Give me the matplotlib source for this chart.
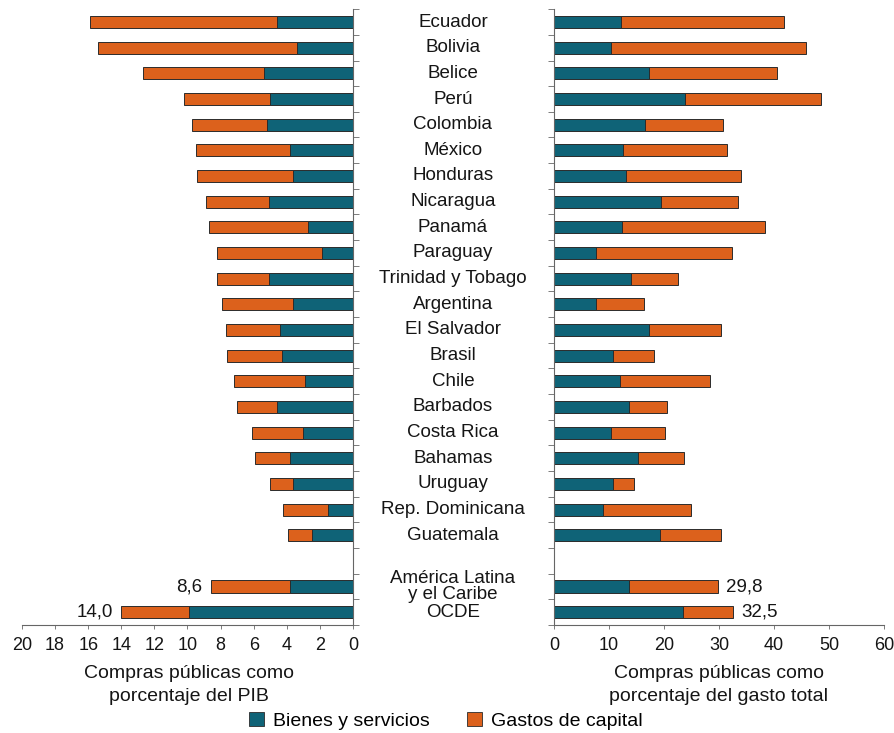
import matplotlib
matplotlib.use("Agg")
import matplotlib.pyplot as plt
import matplotlib.transforms as mtransforms
from matplotlib.patches import Patch
import numpy as np

plt.rcParams['font.family'] = ['Liberation Sans', 'DejaVu Sans']

countries = ["Ecuador", "Bolivia", "Belice", "Perú", "Colombia", "México", "Honduras",
             "Nicaragua", "Panamá", "Paraguay", "Trinidad y Tobago", "Argentina",
             "El Salvador", "Brasil", "Chile", "Barbados", "Costa Rica", "Bahamas",
             "Uruguay", "Rep. Dominicana", "Guatemala",
             "América Latina\ny el Caribe", "OCDE"]

# % del PIB
pib_bienes = [4.6, 3.4, 5.4, 5.0, 5.2, 3.8, 3.6, 5.1, 2.7, 1.9, 5.1, 3.6,
              4.4, 4.3, 2.9, 4.6, 3.0, 3.8, 3.6, 1.5, 2.5, 3.8, 9.9]
pib_capital = [11.3, 12.0, 7.3, 5.2, 4.5, 5.7, 5.8, 3.8, 6.0, 6.3, 3.1, 4.3,
               3.3, 3.3, 4.3, 2.4, 3.1, 2.1, 1.4, 2.7, 1.4, 4.8, 4.1]

# % del gasto total
gasto_bienes = [12.2, 10.3, 17.3, 23.9, 16.6, 12.6, 13.1, 19.4, 12.3, 7.6, 14.0, 7.6,
                17.3, 10.7, 12.0, 13.7, 10.4, 15.3, 10.7, 9.0, 19.3, 13.7, 23.4]
gasto_capital = [29.6, 35.5, 23.2, 24.6, 14.1, 18.8, 20.9, 14.0, 26.1, 24.8, 8.5, 8.8,
                 13.1, 7.4, 16.4, 6.8, 9.8, 8.3, 3.8, 15.9, 11.1, 16.1, 9.1]

value_labels_pib = {"América Latina\ny el Caribe": "8,6", "OCDE": "14,0"}
value_labels_gasto = {"América Latina\ny el Caribe": "29,8", "OCDE": "32,5"}

left_ticks = [0, 2, 4, 6, 8, 10, 12, 14, 16, 18, 20]
right_ticks = [0, 10, 20, 30, 40, 50, 60]

blue = "#0f6377"
orange = "#dc611c"
edge = "#2b2b2b"
spine_c = "#666666"
txt_c = "#151515"

n_c = len(countries)
ypos = np.array(list(range(n_c - 2)) + [n_c - 1, n_c])

W, H = 895, 733
fig = plt.figure(figsize=(W / 100, H / 100), dpi=100)
top_px, bot_px = 9.2, 625
axL = fig.add_axes([22 / W, 1 - bot_px / H, (353 - 22) / W, (bot_px - top_px) / H])
axR = fig.add_axes([554 / W, 1 - bot_px / H, (884 - 554) / W, (bot_px - top_px) / H])

bh = 0.47
for ax, b, c, lim, ticks, labs, side in [
        (axL, pib_bienes, pib_capital, (20, 0), left_ticks, value_labels_pib, 'right'),
        (axR, gasto_bienes, gasto_capital, (0, 60), right_ticks, value_labels_gasto, 'left')]:
    ax.barh(ypos, b, height=bh, color=blue, edgecolor=edge, linewidth=0.7)
    ax.barh(ypos, c, left=b, height=bh, color=orange, edgecolor=edge, linewidth=0.7)
    ax.set_xlim(*lim)
    ax.set_ylim(n_c + 0.5, -0.5)
    ax.set_xticks(ticks)
    ax.set_xticklabels([str(t) for t in ticks])
    ax.set_yticks([])
    ax.set_yticks(np.arange(-0.5, n_c + 1, 1), minor=True)
    ax.tick_params(axis='y', which='minor', length=4, width=0.6, color=spine_c,
                   direction='out', left=(side == 'left'), right=(side == 'right'))
    ax.tick_params(axis='x', length=3, width=0.6, color=spine_c, direction='out',
                   labelsize=13, pad=6, labelcolor=txt_c)
    for s in ax.spines.values():
        s.set_visible(False)
    ax.spines['bottom'].set_visible(True)
    ax.spines[side].set_visible(True)
    for s in ('bottom', side):
        ax.spines[s].set_color(spine_c)
        ax.spines[s].set_linewidth(0.8)
    for name, y, bb, cc in zip(countries, ypos, b, c):
        if name in labs:
            dx = -6 if side == 'right' else 6
            ax.annotate(labs[name], xy=(bb + cc, y), xytext=(dx, 0), textcoords='offset points',
                        ha='right' if side == 'right' else 'left', va='center',
                        fontsize=13.5, color=txt_c)

trans = mtransforms.blended_transform_factory(fig.transFigure, axR.transData)
for name, y in zip(countries, ypos):
    fig.text(453 / W, y, name, transform=trans, ha='center', va='center',
             fontsize=13.5, color=txt_c, linespacing=0.95)

fig.text(189 / W, 1 - 685 / H, "Compras públicas como\nporcentaje del PIB", ha='center',
         va='center', fontsize=14, color=txt_c, linespacing=1.45)
fig.text(719 / W, 1 - 685 / H, "Compras públicas como\nporcentaje del gasto total", ha='center',
         va='center', fontsize=14, color=txt_c, linespacing=1.45)

handles = [Patch(facecolor=blue, edgecolor=edge, linewidth=0.6, label="Bienes y servicios"),
           Patch(facecolor=orange, edgecolor=edge, linewidth=0.6, label="Gastos de capital")]
fig.legend(handles=handles, loc='center', bbox_to_anchor=(446 / W, 1 - 721 / H), ncol=2,
           frameon=False, fontsize=14, handlelength=0.75, handleheight=0.75,
           handletextpad=0.5, columnspacing=1.9, borderaxespad=0, borderpad=0)

fig.savefig("out.png", dpi=100)
